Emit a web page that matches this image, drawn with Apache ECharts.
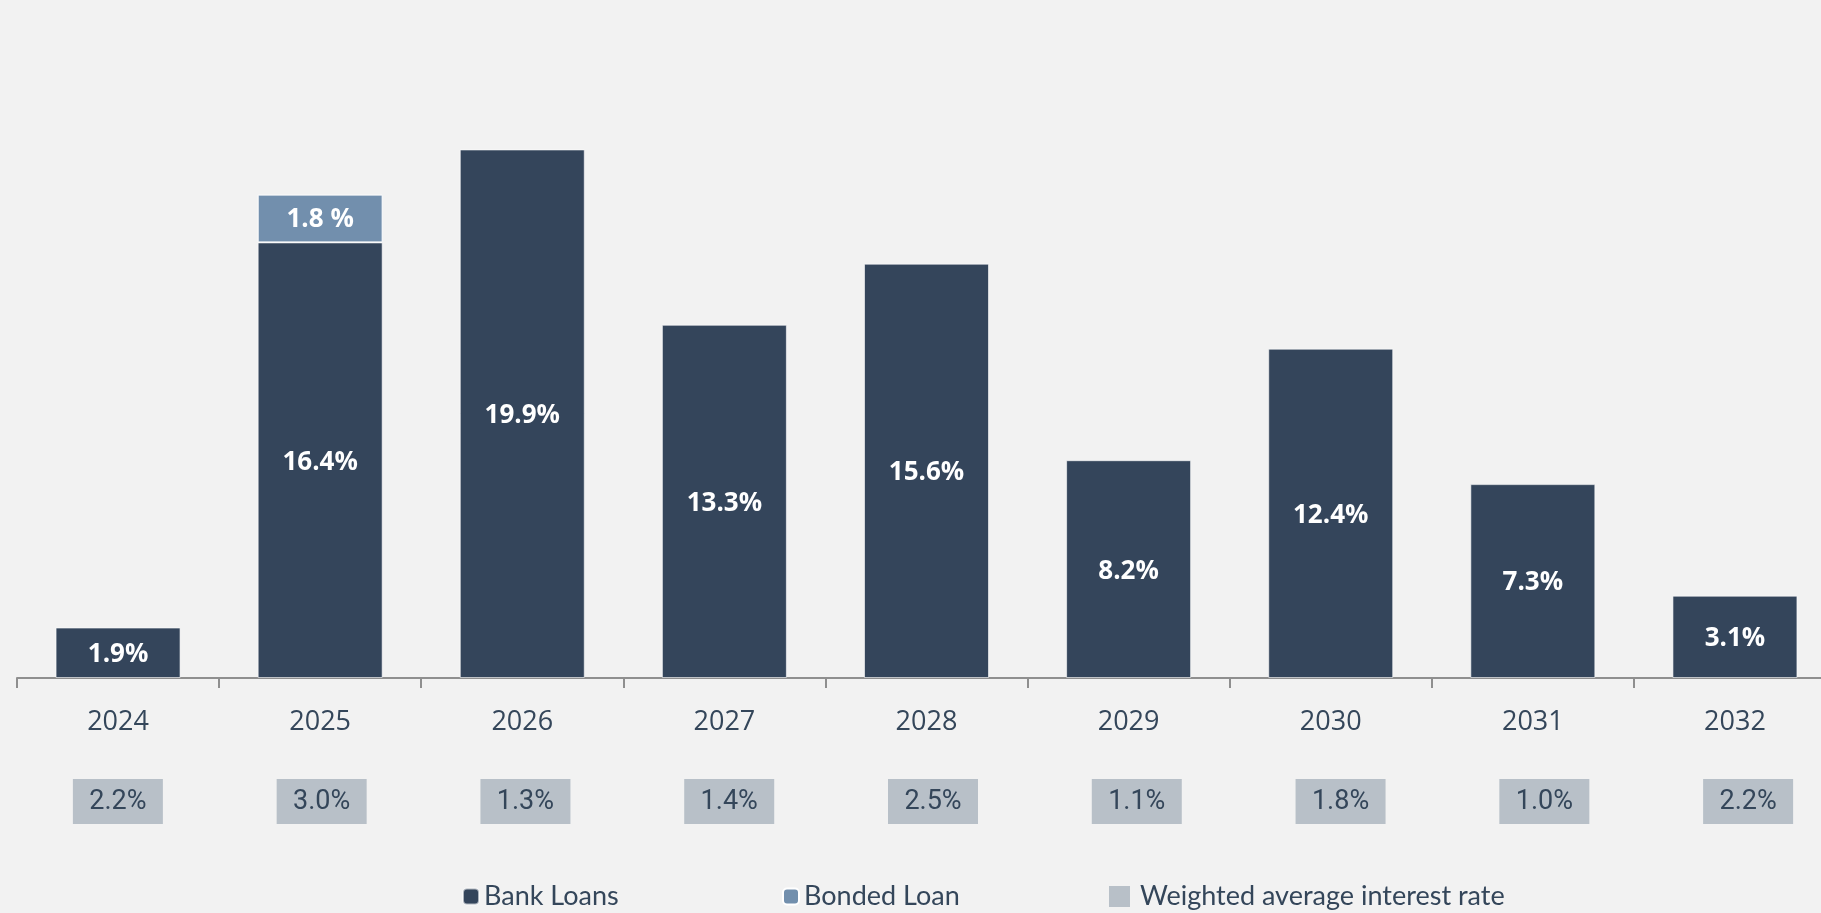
<!DOCTYPE html>
<html>
<head>
<meta charset="utf-8">
<script src="https://cdn.jsdelivr.net/npm/echarts@6/dist/echarts.min.js"></script>
<style>
  html, body { margin: 0; padding: 0; background: #f2f2f2; overflow: hidden; }
  /* the plot runs slightly past the right edge of the page, so the canvas is a bit wider */
  #chart { width: 1850px; height: 913px; }
</style>
</head>
<body>
<div id="chart"></div>
<script>
// Debt maturity profile: share of total debt maturing each year
const years = ['2024', '2025', '2026', '2027', '2028', '2029', '2030', '2031', '2032'];
const bankLoans = [1.9, 16.4, 19.9, 13.3, 15.6, 8.2, 12.4, 7.3, 3.1];
const bondedLoan = [null, 1.8, null, null, null, null, null, null, null];
const interestRates = [2.2, 3.0, 1.3, 1.4, 2.5, 1.1, 1.8, 1.0, 2.2];

const TEXT = '#34465a';
const BANK = '#34455b';
const BOND = '#728fad';
const RATE = '#b8c0c8';
const AXIS = '#8f8f8f';

const chart = echarts.init(document.getElementById('chart'));

const legendText = { color: TEXT, fontSize: 27, lineHeight: 27, fontFamily: 'Lato' };

chart.setOption({
  backgroundColor: '#f2f2f2',
  animation: false,
  textStyle: { fontFamily: 'Open Sans' },
  grid: [
    // bars
    { left: 17, width: 1819, top: 14, bottom: 235 },
    // row of interest-rate boxes under the axis
    { left: 16, width: 1834, top: 779, height: 45 }
  ],
  xAxis: [
    {
      type: 'category',
      gridIndex: 0,
      data: years,
      boundaryGap: true,
      axisLine: { show: true, lineStyle: { color: AXIS, width: 2 } },
      axisTick: { show: true, length: 10, lineStyle: { color: AXIS, width: 2 } },
      axisLabel: { color: TEXT, fontSize: 27, margin: 31, fontFamily: 'Open Sans' }
    },
    {
      type: 'category',
      gridIndex: 1,
      data: years,
      show: false
    }
  ],
  yAxis: [
    { type: 'value', gridIndex: 0, min: 0, max: 25, show: false },
    { type: 'value', gridIndex: 1, min: -1, max: 1, show: false }
  ],
  legend: [
    {
      data: ['Bank Loans'],
      left: 462, top: 883, padding: 0,
      itemWidth: 16, itemHeight: 16,
      textStyle: legendText
    },
    {
      data: ['Bonded Loan'],
      left: 782, top: 883, padding: 0,
      itemWidth: 16, itemHeight: 16,
      textStyle: legendText
    },
    {
      data: ['Weighted average interest rate'],
      left: 1109, top: 883, padding: 0,
      itemWidth: 21, itemHeight: 21,
      textStyle: Object.assign({}, legendText, { padding: [0, 0, 0, 5] })
    }
  ],
  series: [
    {
      name: 'Bank Loans',
      type: 'bar',
      stack: 'debt',
      barWidth: 125,
      data: bankLoans,
      itemStyle: { color: BANK, borderColor: 'rgba(255,255,255,0.6)', borderWidth: 1 },
      label: {
        show: true,
        position: 'inside',
        offset: [0, 2],
        formatter: p => p.value.toFixed(1) + '%',
        color: '#ffffff',
        fontSize: 26,
        fontWeight: 'bold',
        fontFamily: 'Open Sans'
      }
    },
    {
      name: 'Bonded Loan',
      type: 'bar',
      stack: 'debt',
      barWidth: 125,
      data: bondedLoan,
      itemStyle: { color: BOND, borderColor: '#ffffff', borderWidth: 1 },
      label: {
        show: true,
        position: 'inside',
        offset: [0, 1],
        formatter: p => p.value.toFixed(1) + ' %',
        color: '#ffffff',
        fontSize: 26,
        fontWeight: 'bold',
        fontFamily: 'Open Sans'
      }
    },
    {
      name: 'Weighted average interest rate',
      type: 'scatter',
      xAxisIndex: 1,
      yAxisIndex: 1,
      symbol: 'rect',
      symbolSize: [90, 45],
      itemStyle: { color: RATE, opacity: 1 },
      data: interestRates.map((r, i) => ({ value: [years[i], 0, r] })),
      label: {
        show: true,
        position: 'inside',
        offset: [0, 1],
        formatter: p => p.value[2].toFixed(1) + '%',
        color: TEXT,
        fontSize: 27,
        fontFamily: 'Roboto'
      },
      emphasis: { disabled: true }
    }
  ]
});
</script>
</body>
</html>
